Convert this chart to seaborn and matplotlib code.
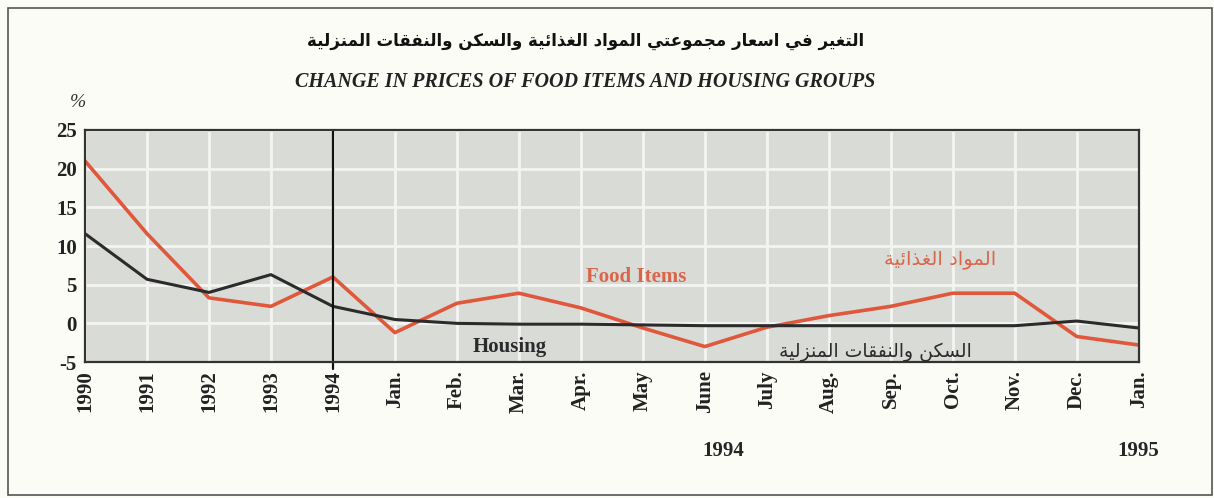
import numpy as np
import pandas as pd
import matplotlib
matplotlib.use("Agg")
import matplotlib.pyplot as plt
import seaborn as sns
from matplotlib.patches import Rectangle

# data
periods = ["1990", "1991", "1992", "1993", "1994", "Jan.", "Feb.", "Mar.", "Apr.", "May",
           "June", "July", "Aug.", "Sep.", "Oct.", "Nov.", "Dec.", "Jan."]
food = [21.0, 11.6, 3.3, 2.2, 6.0, -1.2, 2.6, 3.9, 2.0, -0.6,
        -3.0, -0.5, 1.0, 2.2, 3.9, 3.9, -1.7, -2.8]
housing = [11.6, 5.7, 4.0, 6.3, 2.2, 0.5, 0.0, -0.1, -0.1, -0.2,
           -0.3, -0.3, -0.3, -0.3, -0.3, -0.3, 0.3, -0.6]
yticks = [-5, 0, 5, 10, 15, 20, 25]

title_ar = "التغير في اسعار مجموعتي المواد الغذائية والسكن والنفقات المنزلية"
title_en = "CHANGE IN PRICES OF FOOD ITEMS AND HOUSING GROUPS"
food_ar = "المواد الغذائية"
housing_ar = "السكن والنفقات المنزلية"

# matplotlib has no arabic shaping, so map letters to their presentation forms
FORMS = {  # isolated, final, initial, medial
    "ا": ("\uFE8D", "\uFE8E", None, None),
    "د": ("\uFEA9", "\uFEAA", None, None),
    "ذ": ("\uFEAB", "\uFEAC", None, None),
    "ر": ("\uFEAD", "\uFEAE", None, None),
    "ز": ("\uFEAF", "\uFEB0", None, None),
    "و": ("\uFEED", "\uFEEE", None, None),
    "ة": ("\uFE93", "\uFE94", None, None),
    "ئ": ("\uFE89", "\uFE8A", "\uFE8B", "\uFE8C"),
    "ت": ("\uFE95", "\uFE96", "\uFE97", "\uFE98"),
    "ج": ("\uFE9D", "\uFE9E", "\uFE9F", "\uFEA0"),
    "س": ("\uFEB1", "\uFEB2", "\uFEB3", "\uFEB4"),
    "ع": ("\uFEC9", "\uFECA", "\uFECB", "\uFECC"),
    "غ": ("\uFECD", "\uFECE", "\uFECF", "\uFED0"),
    "ف": ("\uFED1", "\uFED2", "\uFED3", "\uFED4"),
    "ق": ("\uFED5", "\uFED6", "\uFED7", "\uFED8"),
    "ك": ("\uFED9", "\uFEDA", "\uFEDB", "\uFEDC"),
    "ل": ("\uFEDD", "\uFEDE", "\uFEDF", "\uFEE0"),
    "م": ("\uFEE1", "\uFEE2", "\uFEE3", "\uFEE4"),
    "ن": ("\uFEE5", "\uFEE6", "\uFEE7", "\uFEE8"),
    "ي": ("\uFEF1", "\uFEF2", "\uFEF3", "\uFEF4"),
}


def shape(text):
    out = []
    for i, c in enumerate(text):
        if c not in FORMS:
            out.append(c)
            continue
        prev = text[i - 1] if i > 0 else None
        nxt = text[i + 1] if i + 1 < len(text) else None
        jp = prev in FORMS and FORMS[prev][2] is not None
        jn = nxt in FORMS and FORMS[c][2] is not None
        iso, fin, ini, med = FORMS[c]
        if jp and jn:
            out.append(med)
        elif jp:
            out.append(fin)
        elif jn:
            out.append(ini)
        else:
            out.append(iso)
    return "".join(reversed(out))


df = pd.DataFrame({"pos": list(range(len(periods))) * 2,
                   "value": food + housing,
                   "group": ["Food Items"] * len(food) + ["Housing"] * len(housing)})

sns.set_style("whitegrid", {"axes.facecolor": "#d9dbd7", "grid.color": "#f4f4f2",
                            "axes.edgecolor": "#333333"})
plt.rcParams["font.family"] = ["Liberation Serif", "DejaVu Sans"]

RED = "#e0583c"
BLACK = "#2b2b2b"
SERIF = ["Liberation Serif", "DejaVu Sans"]

fig = plt.figure(figsize=(12.14, 4.98), dpi=100, facecolor="#fcfcf7")
ax = fig.add_axes([0.070, 0.273, 0.868, 0.466])

sns.lineplot(data=df, x="pos", y="value", hue="group",
             palette={"Food Items": RED, "Housing": BLACK}, legend=False, ax=ax)
for line, lw in zip(ax.lines, [2.6, 2.2]):
    line.set_linewidth(lw)

ax.set_xlim(0, len(periods) - 1)
ax.set_ylim(-5, 25)
ax.set_xticks(range(len(periods)))
ax.set_xticklabels(periods, rotation=90, fontsize=15, fontweight="bold", family=SERIF)
ax.set_yticks(yticks)
ax.set_yticklabels([str(v) for v in yticks], fontsize=15, fontweight="bold", family=SERIF)
ax.tick_params(length=0, pad=6, colors="#222222")
ax.grid(True, linewidth=2)
ax.set_xlabel("")
ax.set_ylabel("")
for s in ax.spines.values():
    s.set_linewidth(1.6)

# divider between yearly and monthly values
ax.axvline(periods.index("1994"), ymin=-0.03, ymax=1, color="#111111", lw=1.6, clip_on=False)

ax.text(8.9, 6.0, "Food Items", color="#d9664a", fontsize=15, fontweight="bold",
        family=SERIF, ha="center", va="center")
ax.text(6.85, -3.1, "Housing", color=BLACK, fontsize=15, fontweight="bold",
        family=SERIF, ha="center", va="center")
ax.text(13.8, 8.2, shape(food_ar), color="#d9664a", fontsize=14,
        family="DejaVu Sans", ha="center", va="center")
ax.text(12.75, -3.8, shape(housing_ar), color=BLACK, fontsize=13.5,
        family="DejaVu Sans", ha="center", va="center")

trans = matplotlib.transforms.blended_transform_factory(ax.transData, fig.transFigure)
ax.text(10.3, 0.094, "1994", transform=trans, fontsize=15, fontweight="bold",
        family=SERIF, ha="center", va="center")
ax.text(17, 0.094, "1995", transform=trans, fontsize=15, fontweight="bold",
        family=SERIF, ha="center", va="center")

fig.text(0.064, 0.795, "%", fontsize=14, style="italic", family=SERIF,
         ha="center", va="center", color="#333333")
fig.text(0.482, 0.918, shape(title_ar), fontsize=12, fontweight="bold",
         family="DejaVu Sans", ha="center", va="center", color="#111111")
fig.text(0.482, 0.835, title_en, fontsize=14.5, fontweight="bold", style="italic",
         family=SERIF, ha="center", va="center", color="#222222")

fig.patches.append(Rectangle((0.007, 0.006), 0.991, 0.978, transform=fig.transFigure,
                             fill=False, edgecolor="#555555", lw=1.2))

fig.savefig("out.png", dpi=100, facecolor=fig.get_facecolor())
